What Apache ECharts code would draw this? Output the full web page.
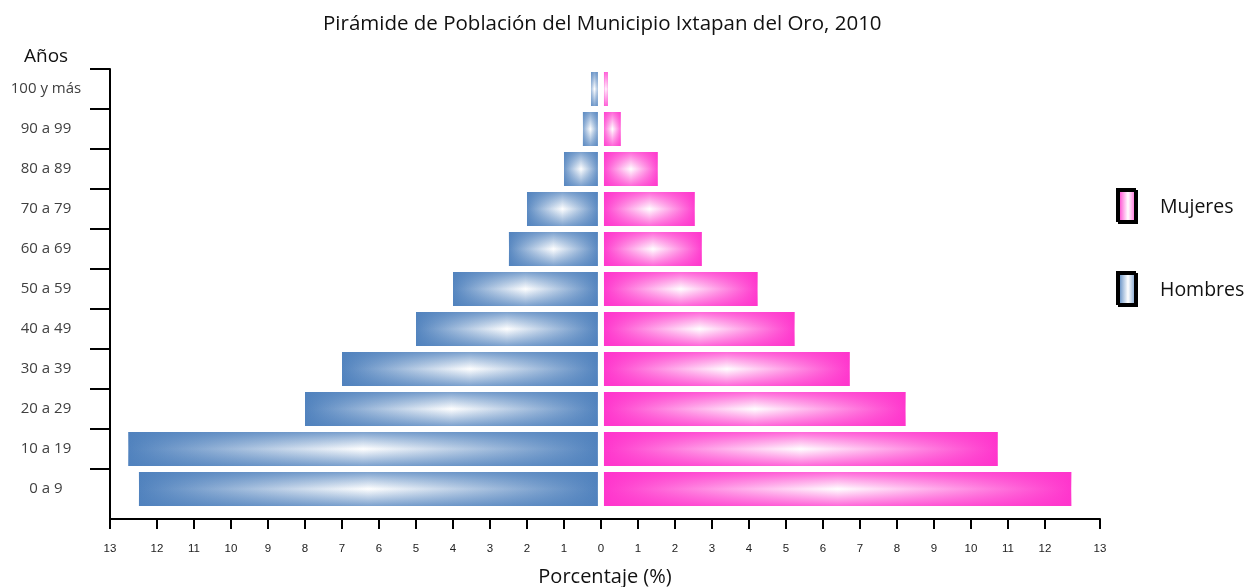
<!DOCTYPE html>
<html>
<head>
<meta charset="utf-8">
<title>Pirámide de Población</title>
<script src="https://cdn.jsdelivr.net/npm/echarts@6/dist/echarts.min.js"></script>
<style>
  html, body { margin: 0; padding: 0; background: #fff; }
  #main { width: 1247px; height: 587px; }
</style>
</head>
<body>
<div id="main"></div>
<script>
// age groups, bottom to top
const ageGroups = ['0 a 9', '10 a 19', '20 a 29', '30 a 39', '40 a 49', '50 a 59',
  '60 a 69', '70 a 79', '80 a 89', '90 a 99', '100 y más'];
const hombres = [12.57, 12.86, 8.08, 7.08, 5.08, 4.08, 2.57, 2.08, 1.08, 0.57, 0.35];
const mujeres = [12.80, 10.81, 8.32, 6.81, 5.32, 4.32, 2.81, 2.62, 1.62, 0.62, 0.27];
const xTicks = [0, 1, 2, 3, 4, 5, 6, 7, 8, 9, 10, 11, 12];

const xMin = -13.27;
const xMax = 13.49;
const blue = '#4f81bd';
const pink = '#ff33cc';
const font = '"Open Sans", "Noto Sans", sans-serif';

function hGrad(c) {
  return new echarts.graphic.LinearGradient(0, 0, 1, 0, [
    { offset: 0, color: c }, { offset: 0.5, color: '#ffffff' }, { offset: 1, color: c }
  ]);
}
function vGrad(rgb) {
  return new echarts.graphic.LinearGradient(0, 0, 0, 1, [
    { offset: 0.07, color: 'rgba(' + rgb + ',0.75)' },
    { offset: 0.5, color: 'rgba(' + rgb + ',0)' },
    { offset: 0.93, color: 'rgba(' + rgb + ',0.75)' }
  ]);
}

const tickValues = [xMin]
  .concat(xTicks.slice(1).reverse().map(v => -v))
  .concat(xTicks)
  .concat([xMax]);

const menData = hombres.map(v => -v);

const chart = echarts.init(document.getElementById('main'));

const option = {
  animation: false,
  backgroundColor: '#fff',
  title: [{
    text: 'Pirámide de Población del Municipio Ixtapan del Oro, 2010',
    left: 323, top: 14, padding: 0,
    textStyle: { fontFamily: font, fontSize: 20.5, fontWeight: 'normal', color: '#111' }
  }, {
    text: 'Años',
    left: 24, top: 47, padding: 0,
    textStyle: { fontFamily: font, fontSize: 19, fontWeight: 'normal', color: '#111' }
  }],
  legend: {
    orient: 'vertical',
    left: 1118, top: 190, padding: 0,
    data: ['Mujeres', 'Hombres'],
    itemWidth: 18, itemHeight: 32, itemGap: 49,
    icon: 'rect',
    itemStyle: {
      borderColor: '#000', borderWidth: 2,
      shadowBlur: 0, shadowOffsetX: -2, shadowOffsetY: -2
    },
    textStyle: { fontFamily: font, fontSize: 19.5, color: '#111', padding: [0, 0, 0, 18] }
  },
  grid: { left: 110, right: 147, top: 69, height: 440, containLabel: false, outerBoundsMode: 'none' },
  xAxis: {
    type: 'value',
    min: xMin, max: xMax,
    offset: 10,
    name: 'Porcentaje (%)',
    nameLocation: 'middle',
    nameGap: 48,
    nameMoveOverlap: false,
    nameTextStyle: { fontFamily: font, fontSize: 20, lineHeight: 20, color: '#111' },
    axisLine: { show: true, lineStyle: { color: '#000', width: 2 } },
    axisTick: { show: true, length: 10, lineStyle: { color: '#000', width: 2 }, customValues: tickValues },
    axisLabel: {
      customValues: tickValues,
      margin: 24,
      fontFamily: '"Liberation Sans Narrow", "Liberation Sans", Arial, sans-serif',
      fontSize: 11.5, color: '#222',
      formatter: v => (v <= xMin || v >= xMax) ? '13' : String(Math.abs(Math.round(v)))
    },
    splitLine: { show: false }
  },
  yAxis: {
    type: 'category',
    data: ageGroups,
    axisLine: {
      show: true,
      onZero: false,
      lineStyle: { color: '#000', width: 2 },
      symbol: ['rect', 'none'],
      symbolSize: [2, 20]
    },
    axisTick: {
      show: true, length: 20,
      interval: i => i !== 0,
      lineStyle: { color: '#000', width: 2 }
    },
    axisLabel: { interval: 0, margin: 64, align: 'center', fontFamily: font, fontSize: 15, color: '#404040' },
    splitLine: { show: false }
  },
  series: [{
    name: 'Hombres',
    type: 'bar',
    data: menData,
    barWidth: 40,
    barGap: '-100%',
    itemStyle: { color: hGrad(blue), borderColor: '#fff', borderWidth: 3, shadowColor: blue }
  }, {
    name: 'Hombres borde',
    type: 'bar',
    data: menData,
    barWidth: 40,
    barGap: '-100%',
    silent: true,
    itemStyle: { color: vGrad('79,129,189'), borderColor: '#fff', borderWidth: 3 }
  }, {
    name: 'Mujeres',
    type: 'bar',
    data: mujeres,
    barWidth: 40,
    barGap: '-100%',
    itemStyle: { color: hGrad(pink), borderColor: '#fff', borderWidth: 3, shadowColor: pink }
  }, {
    name: 'Mujeres borde',
    type: 'bar',
    data: mujeres,
    barWidth: 40,
    barGap: '-100%',
    silent: true,
    itemStyle: { color: vGrad('255,51,204'), borderColor: '#fff', borderWidth: 3 }
  }]
};

chart.setOption(option);
window.addEventListener('resize', () => chart.resize());
</script>
</body>
</html>
